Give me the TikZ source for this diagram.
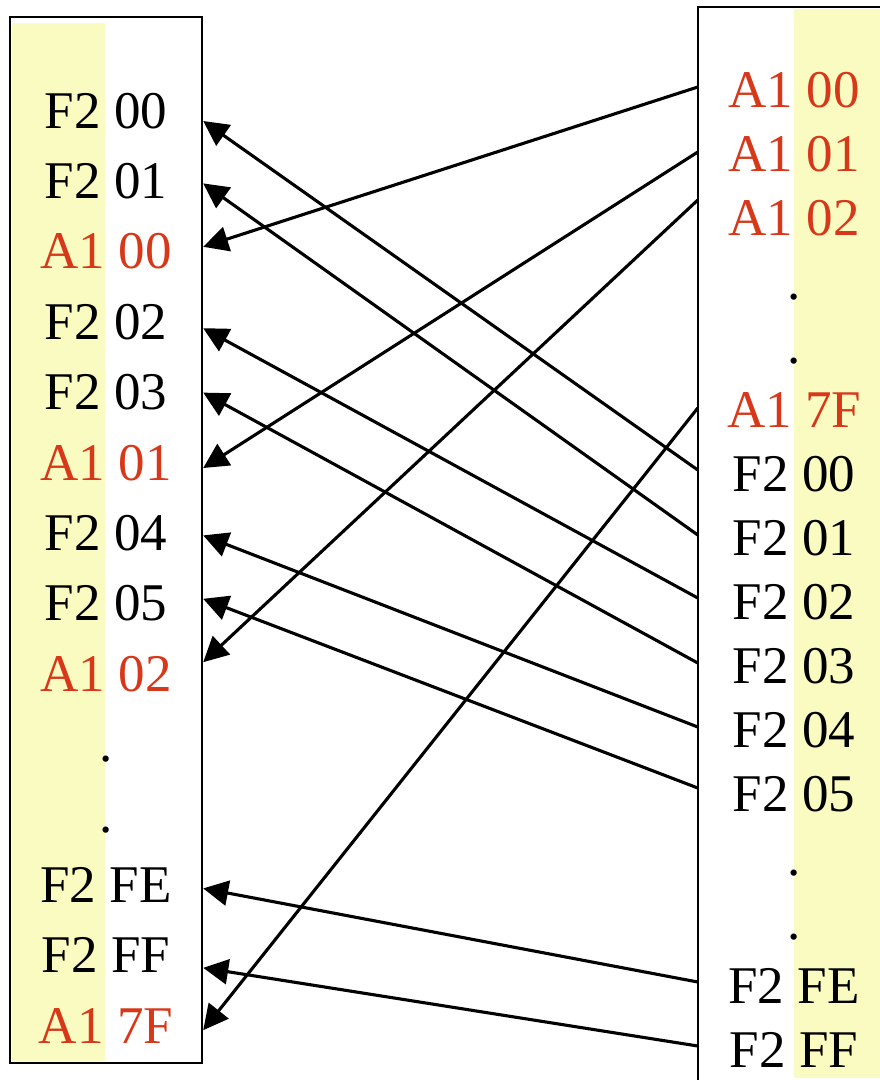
\documentclass[tikz,border=0pt]{standalone}
\usepackage{fontspec}
\setmainfont{Liberation Serif}
\usetikzlibrary{arrows.meta}
\definecolor{hexred}{RGB}{215,56,25}
\definecolor{paleyel}{RGB}{250,251,192}
\begin{document}
\begin{tikzpicture}[x=1pt,y=-1pt,
  row/.style={anchor=base, minimum width=192pt, inner sep=0pt, font=\fontsize{53}{60}\selectfont},
  redrow/.style={row, text=hexred},
  conn/.style={line width=3.1pt, -{Triangle[length=25pt,width=25pt]}},
  frame/.style={line width=2.6pt}]
\useasboundingbox (0,0) rectangle (880,1080);
% left box
\fill[paleyel] (12,23) rectangle (105,1061);
\draw[frame] (10,17) rectangle (202,1063);
% right box
\fill[paleyel] (794,9) rectangle (880,1078);
\draw[frame] (880,7) -- (698,7) -- (698,1080);
% left rows
\foreach \i/\t/\s in {1/F2 00/row, 2/F2 01/row, 3/A1 00/redrow, 4/F2 02/row, 5/F2 03/row,
  6/A1 01/redrow, 7/F2 04/row, 8/F2 05/row, 9/A1 02/redrow, 10/./row, 11/./row,
  12/F2 FE/row, 13/F2 FF/row, 14/A1 7F/redrow}
  \node[\s] (L\i) at (106,{128+70.4*(\i-1)}) {\t};
% right rows
\foreach \i/\t/\s in {1/A1 00/redrow, 2/A1 01/redrow, 3/A1 02/redrow, 4/./row, 5/./row,
  6/A1 7F/redrow, 7/F2 00/row, 8/F2 01/row, 9/F2 02/row, 10/F2 03/row, 11/F2 04/row,
  12/F2 05/row, 13/./row, 14/./row, 15/F2 FE/row, 16/F2 FF/row}
  \node[\s] (R\i) at (794,{107+64*(\i-1)}) {\t};
% connectors
\foreach \r/\ru/\l/\lu in {1/20/3/22, 2/19/6/12, 3/35/9/29, 6/19/14/13,
  7/21/1/7, 8/20/2/15, 9/21/4/11, 10/20/5/17, 11/20/7/15, 12/23/8/22,
  15/21/12/14, 16/21/13/5}
  \draw[conn] ([yshift=\ru pt]R\r.base west) -- ([xshift=1pt,yshift=\lu pt]L\l.base east);
\end{tikzpicture}
\end{document}
